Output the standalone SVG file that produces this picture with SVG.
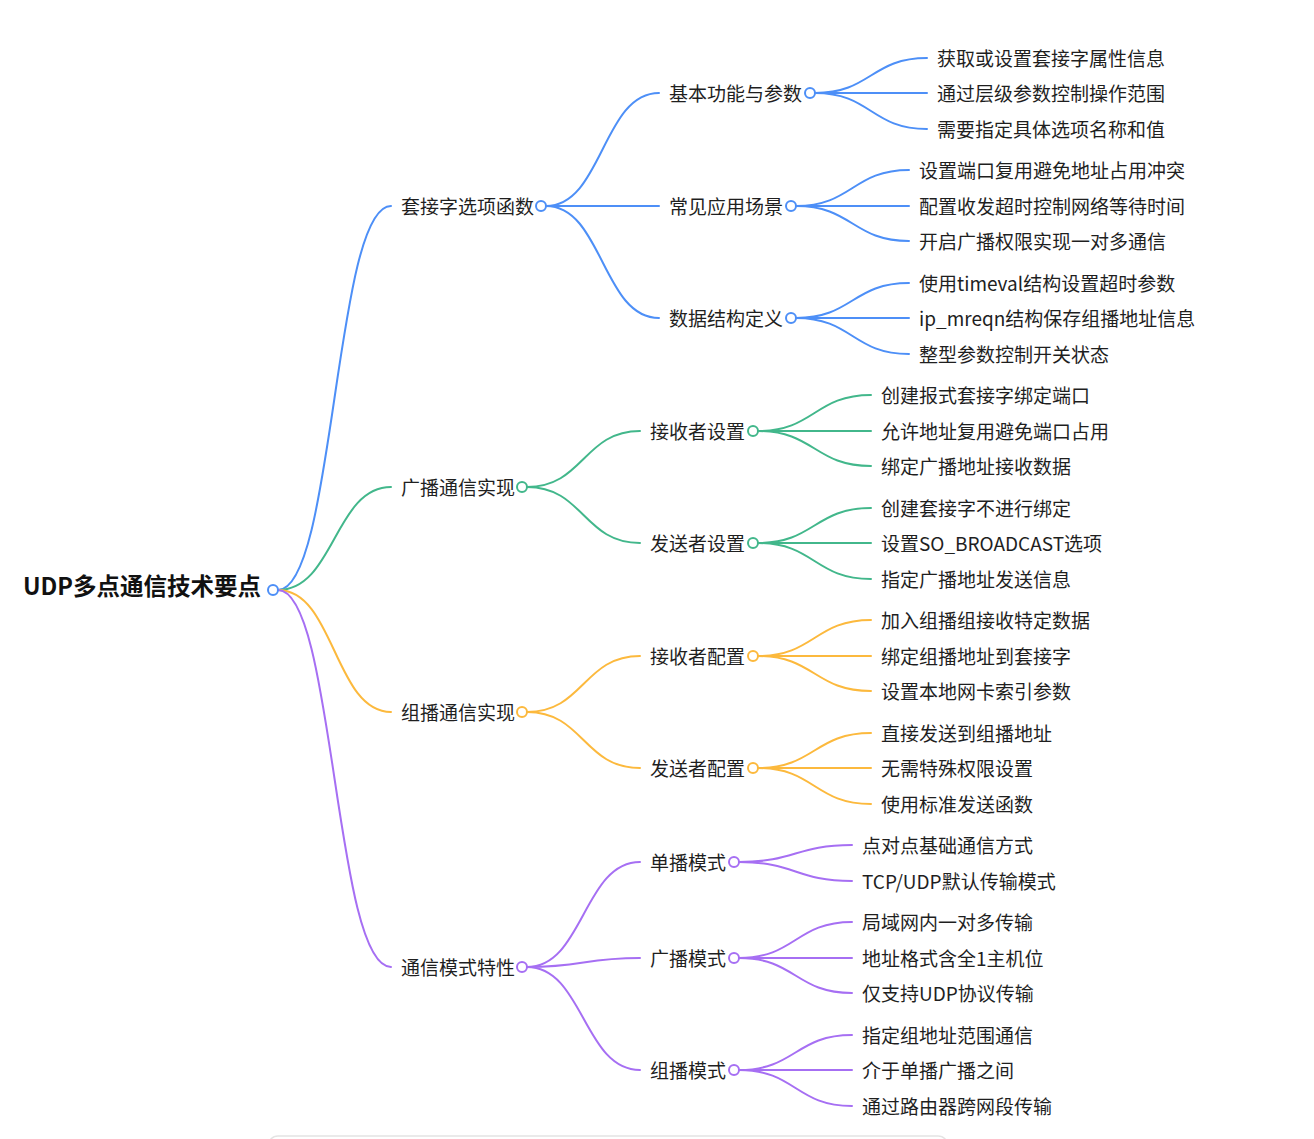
<svg xmlns="http://www.w3.org/2000/svg" width="1314" height="1139" viewBox="0 0 1314 1139">
<style>
text{font-family:"Noto Sans CJK SC","Noto Sans",sans-serif;fill:#1f1f1f;dominant-baseline:central}
.root{font-size:23.5px;font-weight:bold;fill:#111}
.n{font-size:19px}
.l{fill:none;stroke-width:2;stroke-linecap:round}
.dot{fill:#fff;stroke-width:2}
.b{stroke:#4d8ff7}.g{stroke:#42b78b}.o{stroke:#fcb93d}.p{stroke:#a66ff3}
</style>
<rect width="1314" height="1139" fill="#fff"/>
<rect x="268" y="1136" width="680" height="40" rx="10" fill="#fff" stroke="#e4e4e4" stroke-width="1.5"/>
<g id="connectors">
<path class="l b" d="M278 590C334.5 590 334.5 206 391 206"/>
<path class="l g" d="M278 590C334.5 590 334.5 487 391 487"/>
<path class="l o" d="M278 590C334.5 590 334.5 712 391 712"/>
<path class="l p" d="M278 590C334.5 590 334.5 967 391 967"/>
<path class="l b" d="M546 206C602.5 206 602.5 93 659 93"/>
<path class="l b" d="M546 206C602.5 206 602.5 206 659 206"/>
<path class="l b" d="M546 206C602.5 206 602.5 318 659 318"/>
<path class="l b" d="M815 93C871 93 871 58 927 58"/>
<path class="l b" d="M815 93C871 93 871 93 927 93"/>
<path class="l b" d="M815 93C871 93 871 129 927 129"/>
<path class="l b" d="M796 206C852.5 206 852.5 170 909 170"/>
<path class="l b" d="M796 206C852.5 206 852.5 206 909 206"/>
<path class="l b" d="M796 206C852.5 206 852.5 241 909 241"/>
<path class="l b" d="M796 318C852.5 318 852.5 283 909 283"/>
<path class="l b" d="M796 318C852.5 318 852.5 318 909 318"/>
<path class="l b" d="M796 318C852.5 318 852.5 354 909 354"/>
<path class="l g" d="M527 487C583.5 487 583.5 431 640 431"/>
<path class="l g" d="M527 487C583.5 487 583.5 543 640 543"/>
<path class="l g" d="M758 431C814.5 431 814.5 395 871 395"/>
<path class="l g" d="M758 431C814.5 431 814.5 431 871 431"/>
<path class="l g" d="M758 431C814.5 431 814.5 466 871 466"/>
<path class="l g" d="M758 543C814.5 543 814.5 508 871 508"/>
<path class="l g" d="M758 543C814.5 543 814.5 543 871 543"/>
<path class="l g" d="M758 543C814.5 543 814.5 579 871 579"/>
<path class="l o" d="M527 712C583.5 712 583.5 656 640 656"/>
<path class="l o" d="M527 712C583.5 712 583.5 768 640 768"/>
<path class="l o" d="M758 656C814.5 656 814.5 620 871 620"/>
<path class="l o" d="M758 656C814.5 656 814.5 656 871 656"/>
<path class="l o" d="M758 656C814.5 656 814.5 691 871 691"/>
<path class="l o" d="M758 768C814.5 768 814.5 733 871 733"/>
<path class="l o" d="M758 768C814.5 768 814.5 768 871 768"/>
<path class="l o" d="M758 768C814.5 768 814.5 804 871 804"/>
<path class="l p" d="M527 967C583.5 967 583.5 862 640 862"/>
<path class="l p" d="M527 967C583.5 967 583.5 958 640 958"/>
<path class="l p" d="M527 967C583.5 967 583.5 1070 640 1070"/>
<path class="l p" d="M739 862C795.5 862 795.5 845 852 845"/>
<path class="l p" d="M739 862C795.5 862 795.5 881 852 881"/>
<path class="l p" d="M739 958C795.5 958 795.5 922 852 922"/>
<path class="l p" d="M739 958C795.5 958 795.5 958 852 958"/>
<path class="l p" d="M739 958C795.5 958 795.5 993 852 993"/>
<path class="l p" d="M739 1070C795.5 1070 795.5 1035 852 1035"/>
<path class="l p" d="M739 1070C795.5 1070 795.5 1070 852 1070"/>
<path class="l p" d="M739 1070C795.5 1070 795.5 1106 852 1106"/>
</g>
<g id="root"><text class="root" x="23" y="585">UDP多点通信技术要点</text><circle class="dot b" cx="273" cy="590" r="5"/></g>
<g id="n1"><text class="n" x="401" y="205">套接字选项函数</text><circle class="dot b" cx="541" cy="206" r="5"/></g>
<g id="n1a"><text class="n" x="669" y="92">基本功能与参数</text><circle class="dot b" cx="810" cy="93" r="5"/></g>
<g id="n1a1"><text class="n" x="937" y="57">获取或设置套接字属性信息</text></g>
<g id="n1a2"><text class="n" x="937" y="92">通过层级参数控制操作范围</text></g>
<g id="n1a3"><text class="n" x="937" y="128">需要指定具体选项名称和值</text></g>
<g id="n1b"><text class="n" x="669" y="205">常见应用场景</text><circle class="dot b" cx="791" cy="206" r="5"/></g>
<g id="n1b1"><text class="n" x="919" y="169">设置端口复用避免地址占用冲突</text></g>
<g id="n1b2"><text class="n" x="919" y="205">配置收发超时控制网络等待时间</text></g>
<g id="n1b3"><text class="n" x="919" y="240">开启广播权限实现一对多通信</text></g>
<g id="n1c"><text class="n" x="669" y="317">数据结构定义</text><circle class="dot b" cx="791" cy="318" r="5"/></g>
<g id="n1c1"><text class="n" x="919" y="282">使用timeval结构设置超时参数</text></g>
<g id="n1c2"><text class="n" x="919" y="317">ip_mreqn结构保存组播地址信息</text></g>
<g id="n1c3"><text class="n" x="919" y="353">整型参数控制开关状态</text></g>
<g id="n2"><text class="n" x="401" y="486">广播通信实现</text><circle class="dot g" cx="522" cy="487" r="5"/></g>
<g id="n2a"><text class="n" x="650" y="430">接收者设置</text><circle class="dot g" cx="753" cy="431" r="5"/></g>
<g id="n2a1"><text class="n" x="881" y="394">创建报式套接字绑定端口</text></g>
<g id="n2a2"><text class="n" x="881" y="430">允许地址复用避免端口占用</text></g>
<g id="n2a3"><text class="n" x="881" y="465">绑定广播地址接收数据</text></g>
<g id="n2b"><text class="n" x="650" y="542">发送者设置</text><circle class="dot g" cx="753" cy="543" r="5"/></g>
<g id="n2b1"><text class="n" x="881" y="507">创建套接字不进行绑定</text></g>
<g id="n2b2"><text class="n" x="881" y="542">设置SO_BROADCAST选项</text></g>
<g id="n2b3"><text class="n" x="881" y="578">指定广播地址发送信息</text></g>
<g id="n3"><text class="n" x="401" y="711">组播通信实现</text><circle class="dot o" cx="522" cy="712" r="5"/></g>
<g id="n3a"><text class="n" x="650" y="655">接收者配置</text><circle class="dot o" cx="753" cy="656" r="5"/></g>
<g id="n3a1"><text class="n" x="881" y="619">加入组播组接收特定数据</text></g>
<g id="n3a2"><text class="n" x="881" y="655">绑定组播地址到套接字</text></g>
<g id="n3a3"><text class="n" x="881" y="690">设置本地网卡索引参数</text></g>
<g id="n3b"><text class="n" x="650" y="767">发送者配置</text><circle class="dot o" cx="753" cy="768" r="5"/></g>
<g id="n3b1"><text class="n" x="881" y="732">直接发送到组播地址</text></g>
<g id="n3b2"><text class="n" x="881" y="767">无需特殊权限设置</text></g>
<g id="n3b3"><text class="n" x="881" y="803">使用标准发送函数</text></g>
<g id="n4"><text class="n" x="401" y="966">通信模式特性</text><circle class="dot p" cx="522" cy="967" r="5"/></g>
<g id="n4a"><text class="n" x="650" y="861">单播模式</text><circle class="dot p" cx="734" cy="862" r="5"/></g>
<g id="n4a1"><text class="n" x="862" y="844">点对点基础通信方式</text></g>
<g id="n4a2"><text class="n" x="862" y="880">TCP/UDP默认传输模式</text></g>
<g id="n4b"><text class="n" x="650" y="957">广播模式</text><circle class="dot p" cx="734" cy="958" r="5"/></g>
<g id="n4b1"><text class="n" x="862" y="921">局域网内一对多传输</text></g>
<g id="n4b2"><text class="n" x="862" y="957">地址格式含全1主机位</text></g>
<g id="n4b3"><text class="n" x="862" y="992">仅支持UDP协议传输</text></g>
<g id="n4c"><text class="n" x="650" y="1069">组播模式</text><circle class="dot p" cx="734" cy="1070" r="5"/></g>
<g id="n4c1"><text class="n" x="862" y="1034">指定组地址范围通信</text></g>
<g id="n4c2"><text class="n" x="862" y="1069">介于单播广播之间</text></g>
<g id="n4c3"><text class="n" x="862" y="1105">通过路由器跨网段传输</text></g>
</svg>
